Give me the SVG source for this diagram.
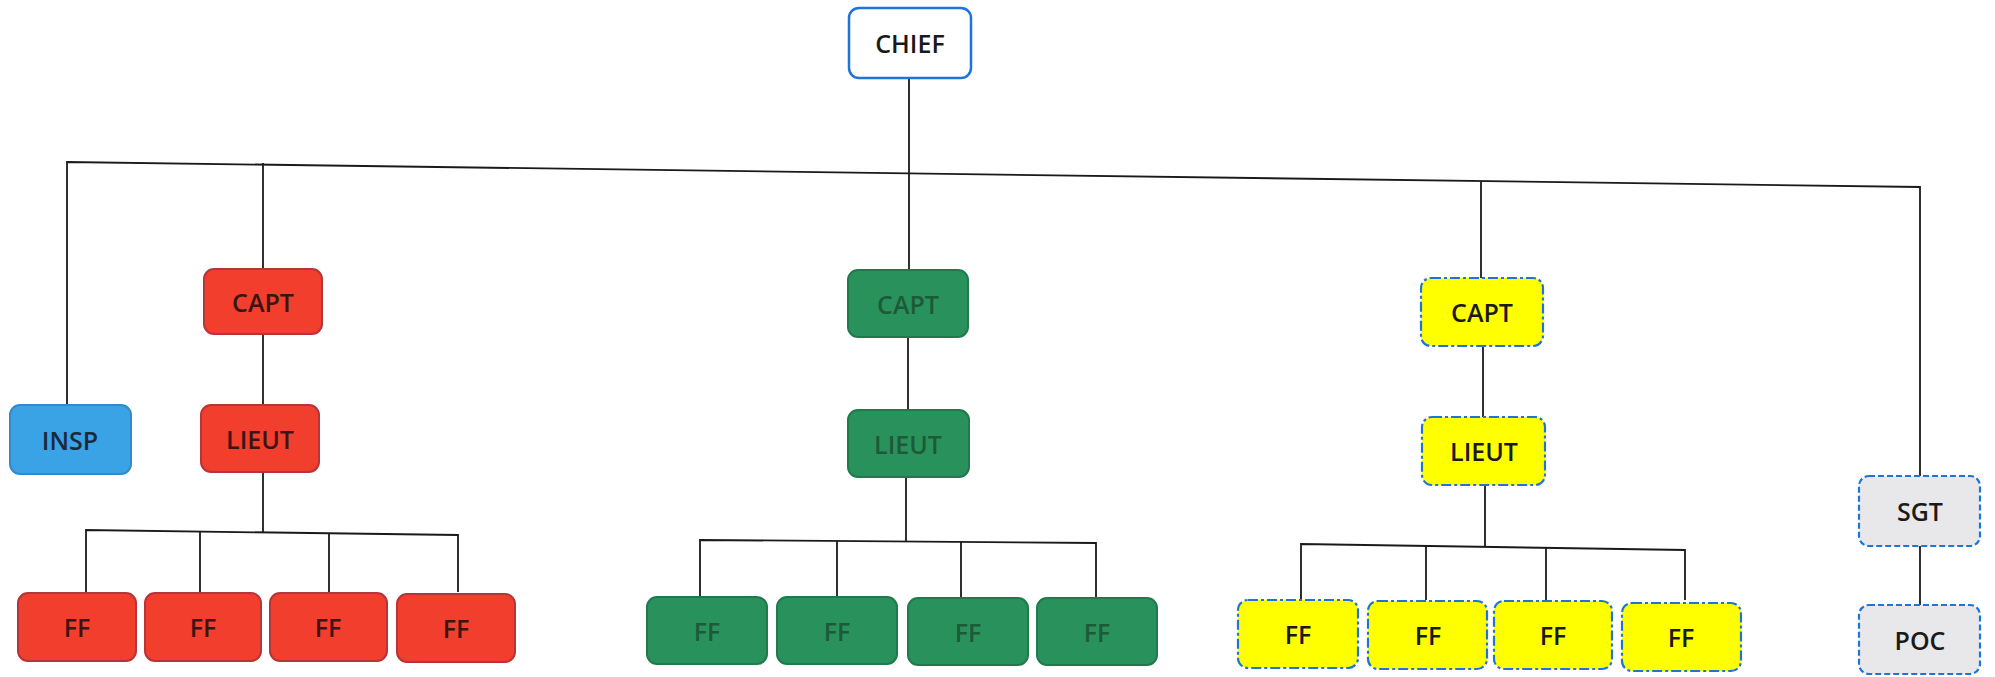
<svg xmlns="http://www.w3.org/2000/svg" width="1995" height="677" viewBox="0 0 1995 677">
<style>
.ln{fill:none;stroke:#1a1a1a;stroke-width:1.8}
text{font-family:"Open Sans","Liberation Sans",sans-serif;font-size:25px;font-weight:600;text-anchor:middle;dominant-baseline:central}
.red rect{fill:#F23E2C;stroke:#B8343A;stroke-width:2}
.red text{fill:#3a1414}
.grn rect{fill:#29925C;stroke:#207a4c;stroke-width:2}
.grn text{fill:#1d5a38}
.yel rect{fill:#FFFF00;stroke:#1e74d8;stroke-width:2.2;stroke-dasharray:10 3 3 3}
.yel text{fill:#1a1a1a}
.gry rect{fill:#E8E8EA;stroke:#1e74d8;stroke-width:2.2;stroke-dasharray:6 3}
.gry text{fill:#1a1a1a}
</style>
<rect width="1995" height="677" fill="#ffffff"/>
<g id="connectors">
<polyline class="ln" points="67,474 67,162 1920,187 1920,476"/>
<line class="ln" x1="909" y1="77" x2="909" y2="269"/>
<line class="ln" x1="263" y1="163" x2="263" y2="269"/>
<line class="ln" x1="263" y1="334" x2="263" y2="405"/>
<line class="ln" x1="908" y1="337" x2="908" y2="410"/>
<line class="ln" x1="1481" y1="182" x2="1481" y2="278"/>
<line class="ln" x1="1483" y1="346" x2="1483" y2="417"/>
<line class="ln" x1="1920" y1="546" x2="1920" y2="605"/>
<polyline class="ln" points="263,472 263,533"/>
<polyline class="ln" points="86,592 86,530 458,535 458,592"/>
<line class="ln" x1="200" y1="532" x2="200" y2="592"/>
<line class="ln" x1="329" y1="533" x2="329" y2="592"/>
<polyline class="ln" points="906,477 906,541"/>
<polyline class="ln" points="700,597 700,540 1096,543 1096,597"/>
<line class="ln" x1="837" y1="541" x2="837" y2="597"/>
<line class="ln" x1="961" y1="542" x2="961" y2="597"/>
<polyline class="ln" points="1485,485 1485,546"/>
<polyline class="ln" points="1301,600 1301,544 1685,550 1685,600"/>
<line class="ln" x1="1426" y1="545" x2="1426" y2="600"/>
<line class="ln" x1="1546" y1="547" x2="1546" y2="600"/>
</g>
<g id="chief"><rect x="849" y="8" width="122" height="70" rx="10" fill="#ffffff" stroke="#1e74d8" stroke-width="2.5"/><text x="910" y="43" fill="#1a1a1a">CHIEF</text></g>
<g id="insp"><rect x="10" y="405" width="121" height="69" rx="10" fill="#3AA3E6" stroke="#3589c8" stroke-width="2"/><text x="70" y="440" fill="#1a2a3a">INSP</text></g>
<g id="capt-red" class="red"><rect x="204" y="269" width="118" height="65" rx="10"/><text x="263" y="302">CAPT</text></g>
<g id="lieut-red" class="red"><rect x="201" y="405" width="118" height="67" rx="10"/><text x="260" y="439">LIEUT</text></g>
<g id="ff-red-1" class="red"><rect x="18" y="593" width="118" height="68" rx="10"/><text x="77" y="627">FF</text></g>
<g id="ff-red-2" class="red"><rect x="145" y="593" width="116" height="68" rx="10"/><text x="203" y="627">FF</text></g>
<g id="ff-red-3" class="red"><rect x="270" y="593" width="117" height="68" rx="10"/><text x="328" y="627">FF</text></g>
<g id="ff-red-4" class="red"><rect x="397" y="594" width="118" height="68" rx="10"/><text x="456" y="628">FF</text></g>
<g id="capt-grn" class="grn"><rect x="848" y="270" width="120" height="67" rx="10"/><text x="908" y="304">CAPT</text></g>
<g id="lieut-grn" class="grn"><rect x="848" y="410" width="121" height="67" rx="10"/><text x="908" y="444">LIEUT</text></g>
<g id="ff-grn-1" class="grn"><rect x="647" y="597" width="120" height="67" rx="10"/><text x="707" y="631">FF</text></g>
<g id="ff-grn-2" class="grn"><rect x="777" y="597" width="120" height="67" rx="10"/><text x="837" y="631">FF</text></g>
<g id="ff-grn-3" class="grn"><rect x="908" y="598" width="120" height="67" rx="10"/><text x="968" y="632">FF</text></g>
<g id="ff-grn-4" class="grn"><rect x="1037" y="598" width="120" height="67" rx="10"/><text x="1097" y="632">FF</text></g>
<g id="capt-yel" class="yel"><rect x="1421" y="278" width="122" height="68" rx="10"/><text x="1482" y="312">CAPT</text></g>
<g id="lieut-yel" class="yel"><rect x="1422" y="417" width="123" height="68" rx="10"/><text x="1484" y="451">LIEUT</text></g>
<g id="ff-yel-1" class="yel"><rect x="1238" y="600" width="120" height="68" rx="10"/><text x="1298" y="634">FF</text></g>
<g id="ff-yel-2" class="yel"><rect x="1368" y="601" width="119" height="68" rx="10"/><text x="1428" y="635">FF</text></g>
<g id="ff-yel-3" class="yel"><rect x="1494" y="601" width="118" height="68" rx="10"/><text x="1553" y="635">FF</text></g>
<g id="ff-yel-4" class="yel"><rect x="1622" y="603" width="119" height="68" rx="10"/><text x="1681" y="637">FF</text></g>
<g id="sgt" class="gry"><rect x="1859" y="476" width="121" height="70" rx="10"/><text x="1920" y="511">SGT</text></g>
<g id="poc" class="gry"><rect x="1859" y="605" width="121" height="69" rx="10"/><text x="1920" y="640">POC</text></g>
</svg>
